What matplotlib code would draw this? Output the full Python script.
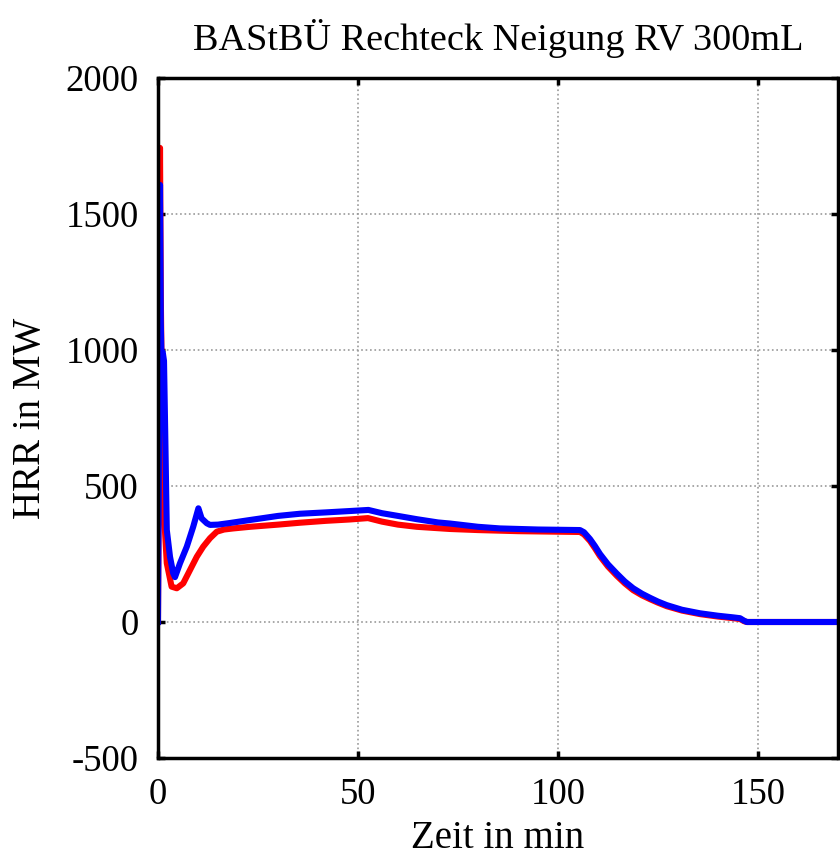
import matplotlib
matplotlib.use("Agg")
import matplotlib.pyplot as plt

# Data (time in min, HRR in MW)
t_red = [0, 0.3, 0.5, 0.7, 1.0, 1.3, 2.2, 3.4, 4.7, 6.3, 8.0, 9.7, 11.3, 13.0, 14.7,
         16.5, 18.8, 23, 30, 35.5, 42, 48, 52.5, 56, 60, 64.7, 73, 80, 90, 100, 105.5,
         106.5, 108, 109.2, 110.5, 112.5, 114.7, 116.7, 118.8, 121, 123, 125, 127.2,
         131, 135.5, 140, 143.8, 145.5, 146.5, 147.2, 170]
hrr_red = [0, 900, 1743, 1200, 800, 450, 216, 130, 124, 142, 191, 240, 277, 308, 332,
           340, 344, 350, 358, 365, 372, 377, 382, 369, 358, 350, 342, 338, 334, 332, 331,
           322, 298, 272, 242, 204, 170, 142, 117, 98, 84, 71, 58,
           42, 29, 20, 14, 11, 3, 0, 0]

t_blue = [0, 0.3, 0.5, 0.7, 0.9, 1.2, 1.5, 1.8, 2.2, 3.0, 3.8, 4.25, 5.5, 7.2, 8.8,
          10.1, 10.9, 12.2, 13, 15, 18, 23, 30, 35.5, 42, 48, 52.6, 56, 60, 64.7, 70,
          73, 80, 85.5, 95, 105.5, 106.5, 108, 109.2, 110.5, 112.5, 114.7, 116.7,
          118.8, 121, 123, 125, 127.2, 131, 135.5, 140, 143.8, 145.5, 146.5, 147.2, 170]
hrr_blue = [0, 800, 1607, 1100, 950, 990, 960, 700, 338, 240, 179, 165, 216, 277, 350,
            418, 381, 363, 357, 358, 364, 375, 390, 398, 403, 408, 412, 400, 390, 378, 366,
            362, 350, 344, 340, 338, 330, 305, 280, 250, 212, 178, 149,
            124, 104, 89, 75, 62, 45, 32, 23, 17, 14, 5, 0, 0]

x_ticks = [0, 50, 100, 150]
y_ticks = [-500, 0, 500, 1000, 1500, 2000]

plt.rcParams['font.family'] = ['Liberation Serif', 'DejaVu Serif']
plt.rcParams['axes.unicode_minus'] = False

fig = plt.figure(figsize=(8.4, 8.6), dpi=100)
ax = fig.add_axes([158/840, (860-758)/860, 680/840, 680/860])

ax.plot(t_red, hrr_red, color='#ff0000', lw=4.4, solid_joinstyle='round')
ax.plot(t_blue, hrr_blue, color='#0000ff', lw=4.4, solid_joinstyle='round')

ax.set_xlim(0, 170)
ax.set_ylim(-500, 2000)
ax.set_xticks(x_ticks)
ax.set_yticks(y_ticks)
ax.grid(True, linestyle=':', color='#999999', linewidth=1.2)
ax.tick_params(direction='in', length=5, width=2.5, top=True, right=True,
               labelsize=26.5, pad=14)
for s in ax.spines.values():
    s.set_linewidth(2.5)

ax.set_title('BAStBÜ Rechteck Neigung RV 300mL', fontsize=27.5, pad=20)
ax.set_xlabel('Zeit in min', fontsize=28, labelpad=6)
ax.set_ylabel('HRR in MW', fontsize=28, labelpad=12)

fig.savefig('out.png', dpi=100)
